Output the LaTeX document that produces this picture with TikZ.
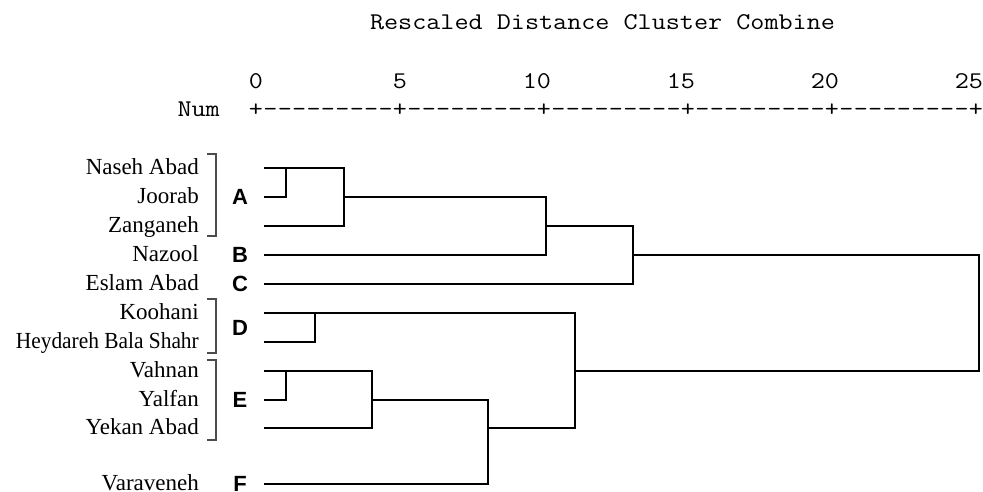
\documentclass[tikz,border=0pt]{standalone}
\usepackage{fontspec}
\setmainfont{Liberation Serif}
\newfontfamily\grpfont{Liberation Sans}
\newcommand{\wide}[1]{\scalebox{1.14}[1]{#1}}

\begin{document}
\begin{tikzpicture}[x=1pt,y=-1pt,line join=miter,line cap=rect,
		mono/.style={font=\fontsize{24}{26}\selectfont\ttfamily,inner sep=0pt},
		leaf/.style={font=\fontsize{23}{25}\selectfont,anchor=base east,inner sep=0pt},
		grp/.style={font=\fontsize{22}{24}\selectfont\grpfont\bfseries,anchor=base,inner sep=0pt},
		link/.style={line width=1.9pt,black},
		brk/.style={line width=1.1pt,black!70,line cap=butt}]
	\useasboundingbox (0,0) rectangle (983,492);
	\def\xo{256} \def\dx{14.4} % axis origin, width of one character
	% title and scale
	\node[mono,anchor=base] (title) at (602.5,30) {\wide{Rescaled Distance Cluster Combine}};
	\node[mono,anchor=base east] (num) at (220,117) {\wide{Num}};
	\foreach \t in {0,...,5}{
		\node[mono,anchor=base east] (d\t) at ({\xo+10*\dx*\t+\dx/2},89) {\wide{\the\numexpr5*\t\relax}};
		\node[mono,anchor=base] (p\t) at ({\xo+10*\dx*\t},117) {\wide{+}};
	}
	\foreach \t in {0,...,4}
		\foreach \k in {1,...,9}
			\node[mono,anchor=base] at ({\xo+10*\dx*\t+\dx*\k},117) {\wide{-}};
	% leaves
	\foreach \n/\y/\name in {1/168/Naseh Abad,2/197/Joorab,3/226/Zanganeh,4/255/Nazool,
			5/284/Eslam Abad,6/313/Koohani,7/342/\scalebox{0.93}[1]{Heydareh Bala Shahr},8/371/Vahnan,
			9/400/Yalfan,10/428/Yekan Abad,11/484/Varaveneh}{
		\coordinate (l\n) at (265,\y);
		\node[leaf] (t\n) at (199,\y+6.5) {\name};
	}
	\foreach \g/\y in {A/197,B/255,C/284,D/327.5,E/400,F/484}
		\node[grp] (g\g) at (240,\y+7.5) {\g};
	% brackets
	\foreach \a/\b in {154/236,299/353,360/440}
		\draw[brk] (207,\a) -- (216,\a) -- (216,\b) -- (207,\b);
	% merge columns
	\coordinate (cA1) at (286,0);  \coordinate (cA2) at (344,0);
	\coordinate (cAB) at (546,0);  \coordinate (cABC) at (633,0);
	\coordinate (cD) at (315,0);   \coordinate (cE1) at (286,0);
	\coordinate (cE2) at (372,0);  \coordinate (cEF) at (488,0);
	\coordinate (cDEF) at (575,0); \coordinate (cAll) at (979,0);
	% tree
	\draw[link] (l1) -- (l1 -| cA2) -- (l3 -| cA2) -- (l3);
	\draw[link] (l2) -| (l1 -| cA1);
	\draw[link] (l4) -| (l2 -| cAB) -- (l2 -| cA2);
	\draw[link] (l3 -| cAB) -- (l3 -| cABC) -- (l5 -| cABC) -- (l5);
	\draw[link] (l4 -| cABC) -- (l4 -| cAll) -- (l8 -| cAll) -- (l8 -| cDEF);
	\draw[link] (l6) -- (l6 -| cDEF) -- (l10 -| cDEF) -- (l10 -| cEF);
	\draw[link] (l7) -| (l6 -| cD);
	\draw[link] (l8) -- (l8 -| cE2) -- (l10 -| cE2) -- (l10);
	\draw[link] (l9) -| (l8 -| cE1);
	\draw[link] (l9 -| cE2) -- (l9 -| cEF) -- (l11 -| cEF) -- (l11);
\end{tikzpicture}
\end{document}
